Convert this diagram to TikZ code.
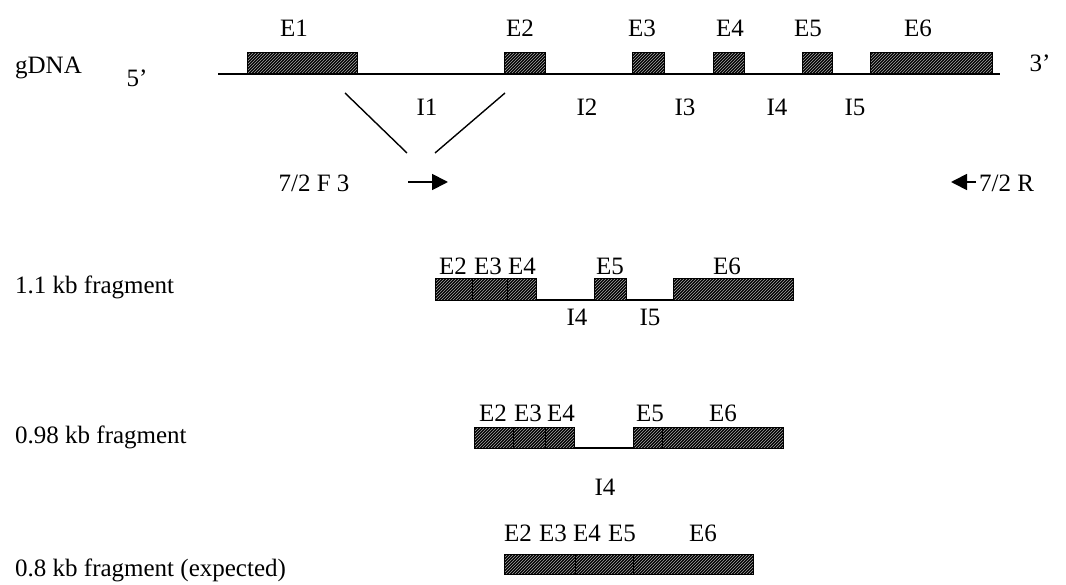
\documentclass[tikz,border=0pt]{standalone}
\usepackage{fontspec}
\setmainfont{Liberation Serif}
\usetikzlibrary{patterns,arrows.meta}
\begin{document}
\begin{tikzpicture}[x=1pt,y=-1pt,
  lbl/.style={font=\fontsize{25}{29}\selectfont, inner sep=0pt},
  exon/.style={draw=black, line width=1.4pt, inner sep=0pt, anchor=south west,
    preaction={fill=black}, pattern=north east lines, pattern color=white!65!black},
  dna/.style={line width=1.8pt},
  div/.style={line width=0.9pt},
  prim/.style={line width=1.8pt, -{Triangle[length=16pt,width=16pt]}}]
\useasboundingbox (0,0) rectangle (1066,585);
% ---- gDNA
\node[lbl, anchor=west] (g) at (15,68) {gDNA};
\node[lbl] (p5) at (137,78) {5’};
\node[lbl] (p3) at (1040,63) {3’};
\coordinate (gl) at (218,74);
\coordinate (gr) at (1000,74);
\draw[dna] (gl) -- (gr);
\node[exon, minimum width=110pt, minimum height=21pt] (e1) at (247,74) {};
\node[exon, minimum width=41pt, minimum height=21pt] (e2) at (504,74) {};
\node[exon, minimum width=32pt, minimum height=21pt] (e3) at (632,74) {};
\node[exon, minimum width=31pt, minimum height=21pt] (e4) at (713,74) {};
\node[exon, minimum width=30pt, minimum height=21pt] (e5) at (802,74) {};
\node[exon, minimum width=122pt, minimum height=21pt] (e6) at (870,74) {};
\node[lbl] (le1) at (294,28) {E1};
\node[lbl] (le2) at (520,28) {E2};
\node[lbl] (le3) at (642,28) {E3};
\node[lbl] (le4) at (730,28) {E4};
\node[lbl] (le5) at (808,28) {E5};
\node[lbl] (le6) at (918,28) {E6};
\node[lbl] (i1) at (427,107) {I1};
\node[lbl] (i2) at (587,107) {I2};
\node[lbl] (i3) at (685,107) {I3};
\node[lbl] (i4) at (777,107) {I4};
\node[lbl] (i5) at (855,107) {I5};
% V lines
\coordinate (va) at (345,93);
\coordinate (vb) at (407,153);
\coordinate (vc) at (505,93);
\coordinate (vd) at (435,153);
\draw[line width=1.4pt] (va) -- (vb);
\draw[line width=1.4pt] (vc) -- (vd);
% primers
\node[lbl] (f3) at (314,183) {7/2 F 3};
\coordinate (fa) at (408,182);
\coordinate (fb) at (448,182);
\draw[prim] (fa) -- (fb);
\node[lbl, anchor=west] (r) at (979,183) {7/2 R};
\coordinate (ra) at (976,182);
\coordinate (rb) at (951,182);
\draw[prim] (ra) -- (rb);
% ---- 1.1 kb
\node[lbl, anchor=west] (f11) at (15,287) {1.1 kb fragment};
\coordinate (al) at (536,300);
\coordinate (ar) at (673,300);
\draw[dna] (al) -- (ar);
\node[exon, minimum width=101pt, minimum height=22pt] (a1) at (435,301) {};
\draw[div] (472,279) -- (472,301) (507,279) -- (507,301);
\node[exon, minimum width=32pt, minimum height=22pt] (a5) at (594,301) {};
\node[exon, minimum width=120pt, minimum height=22pt] (a6) at (673,301) {};
\node[lbl] (la2) at (453,266) {E2};
\node[lbl] (la3) at (488,266) {E3};
\node[lbl] (la4) at (522,266) {E4};
\node[lbl] (la5) at (610,266) {E5};
\node[lbl] (la6) at (727,266) {E6};
\node[lbl] (ai4) at (577,317) {I4};
\node[lbl] (ai5) at (650,317) {I5};
% ---- 0.98 kb
\node[lbl, anchor=west] (f98) at (15,437) {0.98 kb fragment};
\coordinate (bl) at (574,448);
\coordinate (br) at (634,448);
\draw[dna] (bl) -- (br);
\node[exon, minimum width=100pt, minimum height=21pt] (b1) at (474,449) {};
\draw[div] (513,428) -- (513,449) (545,428) -- (545,449);
\node[exon, minimum width=150pt, minimum height=21pt] (b5) at (633,449) {};
\draw[div] (662,428) -- (662,449);
\node[lbl] (lb2) at (493,413) {E2};
\node[lbl] (lb3) at (528,413) {E3};
\node[lbl] (lb4) at (561,413) {E4};
\node[lbl] (lb5) at (650,413) {E5};
\node[lbl] (lb6) at (723,413) {E6};
\node[lbl] (bi4) at (605,487) {I4};
% ---- 0.8 kb
\node[lbl, anchor=west] (f08) at (15,570) {0.8 kb fragment (expected)};
\node[exon, minimum width=249pt, minimum height=20pt] (c1) at (504,575) {};
\draw[div] (575,555) -- (575,575) (633,555) -- (633,575);
\node[lbl] (lc2) at (518,533) {E2};
\node[lbl] (lc3) at (553,533) {E3};
\node[lbl] (lc4) at (587,533) {E4};
\node[lbl] (lc5) at (622,533) {E5};
\node[lbl] (lc6) at (703,533) {E6};
\end{tikzpicture}
\end{document}
